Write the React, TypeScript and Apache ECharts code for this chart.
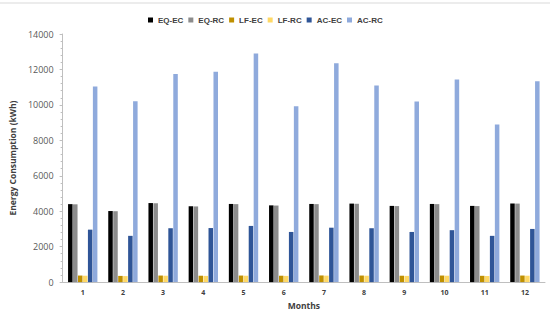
import React, { useEffect, useRef } from "react";
import * as echarts from "echarts";

const months = ["1", "2", "3", "4", "5", "6", "7", "8", "9", "10", "11", "12"];
const seriesNames = ["EQ-EC", "EQ-RC", "LF-EC", "LF-RC", "AC-EC", "AC-RC"];
const eqEC = [4400, 4010, 4460, 4280, 4410, 4330, 4410, 4430, 4300, 4410, 4300, 4440];
const eqRC = [4390, 4000, 4450, 4270, 4400, 4320, 4400, 4420, 4290, 4400, 4290, 4430];
const lfEC = [370, 350, 370, 360, 370, 360, 375, 370, 360, 370, 355, 370];
const lfRC = [360, 340, 360, 350, 360, 350, 365, 360, 350, 360, 345, 360];
const acEC = [2960, 2610, 3040, 3050, 3170, 2830, 3070, 3040, 2830, 2930, 2610, 3000];
const acRC = [11040, 10200, 11740, 11870, 12900, 9930, 12350, 11090, 10190, 11430, 8890, 11330];
const yTicks = [0, 2000, 4000, 6000, 8000, 10000, 12000, 14000];

const colors = ["#000000", "#8c8c8c", "#bf9000", "#ffd966", "#2f5597", "#8faadc"];
const values = [eqEC, eqRC, lfEC, lfRC, acEC, acRC];
const font = "'Open Sans', 'Noto Sans', sans-serif";
const legendFont = "'Liberation Sans', Arial, sans-serif";

export default function App() {
  const ref = useRef<HTMLDivElement>(null);
  useEffect(() => {
    if (!ref.current) return;
    const chart = echarts.init(ref.current, null, { renderer: "svg" });
    chart.setOption({
      animation: false,
      backgroundColor: "#ffffff",
      textStyle: { fontFamily: font },
      graphic: [
        {
          type: "line",
          shape: { x1: 0, y1: 3, x2: 550, y2: 3 },
          style: { stroke: "#d9d9d9", lineWidth: 1 },
        },
      ],
      legend: {
        top: 11,
        left: 143,
        itemWidth: 5,
        itemHeight: 5,
        itemGap: 5,
        icon: "rect",
        data: seriesNames,
        textStyle: { fontSize: 8, fontWeight: "bold", color: "#404040", fontFamily: legendFont },
      },
      grid: { left: 48, right: 5, top: 34, bottom: 29, containLabel: false },
      xAxis: {
        type: "category",
        data: months,
        name: "Months",
        nameLocation: "middle",
        nameGap: 16,
        nameTextStyle: { fontSize: 8.5, fontWeight: "bold", color: "#404040", fontFamily: font },
        axisLine: { lineStyle: { color: "#bfbfbf" } },
        axisTick: { show: false },
        axisLabel: { fontSize: 7, fontWeight: "bold", color: "#404040", margin: 7, fontFamily: font },
      },
      yAxis: {
        type: "value",
        min: yTicks[0],
        max: yTicks[yTicks.length - 1],
        interval: 2000,
        name: "Energy Consumption (kWh)",
        nameLocation: "middle",
        nameGap: 35,
        nameTextStyle: { fontSize: 8.5, fontWeight: "bold", color: "#404040", fontFamily: font },
        axisLine: { show: true, lineStyle: { color: "#bfbfbf" } },
        axisTick: { show: true, inside: false, length: 3, lineStyle: { color: "#bfbfbf" } },
        minorTick: { show: true, splitNumber: 5, length: 2, lineStyle: { color: "#bfbfbf" } },
        splitLine: { show: false },
        axisLabel: {
          fontSize: 9,
          color: "#595959",
          margin: 9,
          fontFamily: font,
          formatter: (v: number) => String(v),
        },
      },
      series: seriesNames.map((name, i) => ({
        name,
        type: "bar",
        data: values[i],
        itemStyle: { color: colors[i] },
        barGap: "10%",
        barCategoryGap: "27%",
      })),
    });
    return () => chart.dispose();
  }, []);
  return <div ref={ref} style={{ width: 550, height: 315, position: "absolute", left: 0, top: 0 }} />;
}
